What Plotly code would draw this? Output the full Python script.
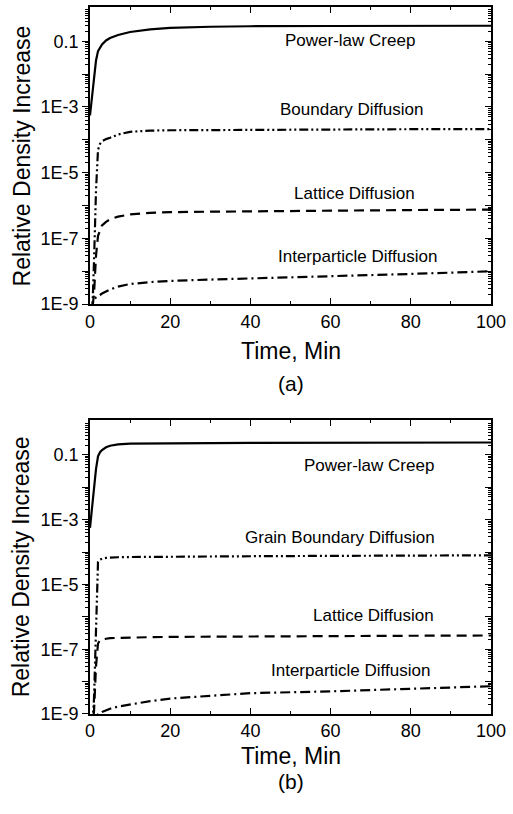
import plotly.graph_objects as go

# ---------------- data ----------------
time_min = [0, 0.5, 1, 1.5, 2, 2.5, 3, 4, 5, 7, 10, 15, 20, 30, 40, 60, 80, 100]

# panel (a)
a_power_law = [5.5e-4, 1.9e-3, 6.3e-3, 0.026, 0.05, 0.065, 0.08, 0.105, 0.125, 0.155, 0.19,
               0.23, 0.255, 0.275, 0.285, 0.29, 0.295, 0.295]
a_boundary = [1e-10, 3e-10, 2e-8, 3e-6, 5e-5, 7.5e-5, 9e-5, 1.05e-4, 1.15e-4, 1.45e-4, 1.75e-4,
              1.9e-4, 1.95e-4, 2e-4, 2e-4, 2.05e-4, 2.1e-4, 2.1e-4]
a_lattice = [3e-10, 6e-10, 2e-9, 3e-8, 1.2e-7, 1.8e-7, 2.5e-7, 3.2e-7, 3.8e-7, 4.6e-7, 5.4e-7,
             6e-7, 6.3e-7, 6.5e-7, 6.7e-7, 7e-7, 7.3e-7, 7.5e-7]
a_interparticle = [6e-10, 1e-9, 1.4e-9, 1.6e-9, 1.8e-9, 1.9e-9, 2.1e-9, 2.5e-9, 2.8e-9, 3.4e-9,
                   4.1e-9, 4.7e-9, 5.1e-9, 5.6e-9, 6e-9, 6.9e-9, 8.3e-9, 1e-8]

# panel (b)
b_power_law = [5.6e-4, 2.3e-3, 9e-3, 0.037, 0.09, 0.12, 0.14, 0.17, 0.19, 0.21, 0.22,
               0.225, 0.23, 0.23, 0.235, 0.235, 0.24, 0.24]
b_grain_boundary = [1e-10, 3e-10, 3e-9, 1e-6, 5e-5, 5.8e-5, 6.2e-5, 6.6e-5, 6.8e-5, 6.9e-5, 7e-5,
                    7.1e-5, 7.2e-5, 7.3e-5, 7.4e-5, 7.6e-5, 7.8e-5, 7.9e-5]
b_lattice = [1e-10, 3e-10, 1.2e-9, 3e-8, 1.5e-7, 1.9e-7, 2.0e-7, 2.1e-7, 2.2e-7, 2.25e-7, 2.3e-7,
             2.35e-7, 2.4e-7, 2.45e-7, 2.5e-7, 2.55e-7, 2.6e-7, 2.65e-7]
b_interparticle = [4e-10, 6e-10, 8e-10, 9e-10, 1.0e-9, 1.05e-9, 1.15e-9, 1.3e-9, 1.45e-9, 1.7e-9,
                   2.0e-9, 2.5e-9, 3.0e-9, 3.7e-9, 4.4e-9, 5.0e-9, 5.9e-9, 7.2e-9]

x_tick_vals = [0, 20, 40, 60, 80, 100]
y_tick_exponents = [-9, -8, -7, -6, -5, -4, -3, -2, -1]
y_tick_labels = ["1E-9", "", "1E-7", "", "1E-5", "", "1E-3", "", "0.1"]

labels_a = ["Power-law Creep", "Boundary Diffusion", "Lattice Diffusion", "Interparticle Diffusion"]
labels_b = ["Power-law Creep", "Grain Boundary Diffusion", "Lattice Diffusion", "Interparticle Diffusion"]
# label anchor positions (time, log10 value)
label_pos_a = [(64.8, -0.97), (65.3, -3.08), (66.0, -5.62), (66.8, -7.54)]
label_pos_b = [(69.6, -1.34), (62.3, -3.55), (70.8, -5.95), (65.0, -7.65)]

# ---------------- styles ----------------
FONT = "Arial, Liberation Sans, sans-serif"
dash_solid = "solid"
dash_dotdot = "9px,3px,2px,3px,2px,3px"
dash_dashed = "10px,6px"
dash_dashdot = "10px,4px,2px,4px"

fig = go.Figure()

def add_panel(xa, ya, series):
    for vals, dash in series:
        fig.add_trace(go.Scatter(x=time_min, y=vals, mode="lines", xaxis=xa, yaxis=ya,
                                 line=dict(color="black", width=2.2, dash=dash),
                                 showlegend=False, hoverinfo="skip"))

add_panel("x", "y", [(a_power_law, dash_solid), (a_boundary, dash_dotdot),
                     (a_lattice, dash_dashed), (a_interparticle, dash_dashdot)])
add_panel("x2", "y2", [(b_power_law, dash_solid), (b_grain_boundary, dash_dotdot),
                       (b_lattice, dash_dashed), (b_interparticle, dash_dashdot)])
# empty traces so right-hand tick axes are drawn
fig.add_trace(go.Scatter(x=[None], y=[None], xaxis="x", yaxis="y3", showlegend=False, hoverinfo="skip"))
fig.add_trace(go.Scatter(x=[None], y=[None], xaxis="x2", yaxis="y4", showlegend=False, hoverinfo="skip"))

minor_vals = []
for e in range(-10, 1):
    for m in range(2, 10):
        minor_vals.append(m * 10 ** e)

tickfont = dict(family=FONT, size=18, color="black")

def xaxis_cfg(anchor):
    return dict(anchor=anchor, domain=[0, 1], range=[0, 100], tickmode="array",
                tickvals=x_tick_vals, ticks="inside", ticklen=6, tickwidth=1.2,
                tickcolor="black", showline=True, linecolor="black", linewidth=1.6,
                mirror="ticks", showgrid=False, zeroline=False, tickfont=tickfont,
                minor=dict(tickmode="array", tickvals=[10, 30, 50, 70, 90], ticks="inside",
                           ticklen=3, tickcolor="black", tickwidth=1))

def yaxis_cfg(anchor, domain, top):
    return dict(anchor=anchor, domain=domain, type="log", range=[-9, top],
                tickmode="array", tickvals=[10 ** e for e in y_tick_exponents],
                ticktext=y_tick_labels, ticks="outside", ticklen=6, tickwidth=1.2,
                tickcolor="black", showline=True, linecolor="black", linewidth=1.6,
                showgrid=False, zeroline=False, tickfont=tickfont,
                minor=dict(tickmode="array", tickvals=minor_vals, ticks="outside",
                           ticklen=3, tickcolor="black", tickwidth=1))

def yaxis_right(overlay, domain, top):
    return dict(overlaying=overlay, side="right", domain=domain, type="log", range=[-9, top],
                tickmode="array", tickvals=[10 ** e for e in y_tick_exponents],
                ticks="inside", ticklen=6, tickwidth=1.2, tickcolor="black",
                showticklabels=False, showline=True, linecolor="black", linewidth=1.6,
                showgrid=False, zeroline=False,
                minor=dict(tickmode="array", tickvals=minor_vals, ticks="inside",
                           ticklen=3, tickcolor="black", tickwidth=1))

dom_a = [0.5797, 1.0]
dom_b = [0.0, 0.4161]
fig.update_layout(
    width=513, height=814,
    margin=dict(l=90, r=22, t=5, b=100),
    plot_bgcolor="white", paper_bgcolor="white",
    font=dict(family=FONT, color="black"),
    xaxis=xaxis_cfg("y"),
    yaxis=yaxis_cfg("x", dom_a, 0.04),
    xaxis2=xaxis_cfg("y2"),
    yaxis2=yaxis_cfg("x2", dom_b, 0.08),
    yaxis3=yaxis_right("y", dom_a, 0.04),
    yaxis4=yaxis_right("y2", dom_b, 0.08),
)

ann = []
for txt, (tx, ly) in zip(labels_a, label_pos_a):
    ann.append(dict(x=tx, y=ly, xref="x", yref="y", text=txt, showarrow=False,
                    font=dict(family=FONT, size=17, color="black")))
for txt, (tx, ly) in zip(labels_b, label_pos_b):
    ann.append(dict(x=tx, y=ly, xref="x2", yref="y2", text=txt, showarrow=False,
                    font=dict(family=FONT, size=17, color="black")))

title_font = dict(family=FONT, size=23, color="black")
for ytitle, ysub, sub, yaxt in [(0.5134, 0.4669, "(a)", 0.7898), (-0.0592, -0.0959, "(b)", 0.2087)]:
    ann.append(dict(x=0.5, y=ytitle, xref="paper", yref="paper", text="Time, Min",
                    showarrow=False, font=title_font, yanchor="middle"))
    ann.append(dict(x=0.5, y=ysub, xref="paper", yref="paper", text=sub,
                    showarrow=False, font=dict(family=FONT, size=21, color="black"),
                    yanchor="middle"))
    ann.append(dict(x=-0.17, y=yaxt, xref="paper", yref="paper", text="Relative Density Increase",
                    showarrow=False, font=title_font, textangle=-90,
                    xanchor="center", yanchor="middle"))
fig.update_layout(annotations=ann)

fig.write_html("out.html", config={"displayModeBar": False},
               post_script="document.body.style.margin='0px';document.body.style.padding='0px';")
